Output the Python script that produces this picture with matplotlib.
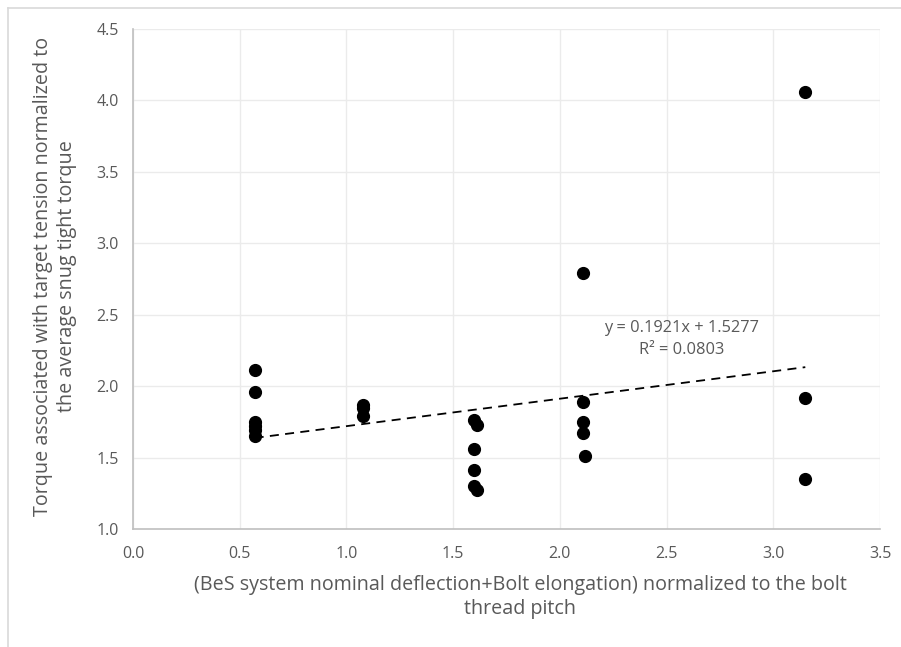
import numpy as np
import matplotlib.pyplot as plt
from matplotlib.lines import Line2D

# 各组螺栓的归一化变形量与对应的归一化扭矩
x_vals = [0.57, 0.57, 0.57, 0.57, 0.57, 0.57,
          1.08, 1.08, 1.08,
          1.60, 1.61, 1.60, 1.60, 1.60, 1.61,
          2.11, 2.11, 2.11, 2.11, 2.12,
          3.15, 3.15, 3.15]
y_vals = [2.11, 1.96, 1.75, 1.72, 1.69, 1.65,
          1.87, 1.85, 1.79,
          1.76, 1.73, 1.56, 1.41, 1.30, 1.27,
          2.79, 1.89, 1.75, 1.67, 1.51,
          4.06, 1.92, 1.35]

# 线性趋势线参数
slope = 0.1921
intercept = 1.5277
r2 = 0.0803

x_ticks = [0.0, 0.5, 1.0, 1.5, 2.0, 2.5, 3.0, 3.5]
y_ticks = [1.0, 1.5, 2.0, 2.5, 3.0, 3.5, 4.0, 4.5]

text_color = "#595959"
plt.rcParams['font.family'] = ['Open Sans', 'DejaVu Sans']

fig = plt.figure(figsize=(9.01, 6.47), dpi=100)
ax = fig.add_axes([0.1476, 0.1824, 0.8291, 0.7728])

# 外框
fig.add_artist(Line2D([8 / 901, 8 / 901], [0, 1 - 8 / 647], color="#d9d9d9", lw=1.2))
fig.add_artist(Line2D([8 / 901, 1], [1 - 8 / 647, 1 - 8 / 647], color="#d9d9d9", lw=1.2))

ax.scatter(x_vals, y_vals, s=72, color="black", zorder=3)

# 趋势线
xs = np.array([min(x_vals), max(x_vals)])
ax.plot(xs, slope * xs + intercept, color="black", lw=1.3,
        linestyle=(0, (5, 3.5)), zorder=2)
ax.text(2.57, 2.33, "y = %.4fx + %.4f\nR² = %.4f" % (slope, intercept, r2),
        ha="center", va="center", fontsize=11.8, color=text_color,
        linespacing=1.45)

ax.set_xlim(0, 3.5)
ax.set_ylim(1.0, 4.5)
ax.set_xticks(x_ticks)
ax.set_yticks(y_ticks)
ax.set_xticklabels(["%.1f" % v for v in x_ticks])
ax.set_yticklabels(["%.1f" % v for v in y_ticks])
ax.tick_params(length=0, labelsize=11.5, labelcolor=text_color)
ax.tick_params(axis="x", pad=12)
ax.tick_params(axis="y", pad=10)
ax.grid(True, color="#ebebeb", lw=1)
ax.set_axisbelow(True)
for side in ["top", "right"]:
    ax.spines[side].set_visible(False)
for side in ["left", "bottom"]:
    ax.spines[side].set_color("#bfbfbf")
    ax.spines[side].set_linewidth(1.2)

fig.text(520 / 901, 1 - 597 / 647,
         "(BeS system nominal deflection+Bolt elongation) normalized to the bolt\nthread pitch",
         ha="center", va="center", fontsize=14.2, color=text_color, linespacing=1.25)
fig.text(55 / 901, 1 - 276 / 647,
         "Torque associated with target tension normalized to\nthe average snug tight torque",
         ha="center", va="center", rotation=90, fontsize=14.2, color=text_color,
         linespacing=1.25)

fig.savefig("out.png", dpi=100)
